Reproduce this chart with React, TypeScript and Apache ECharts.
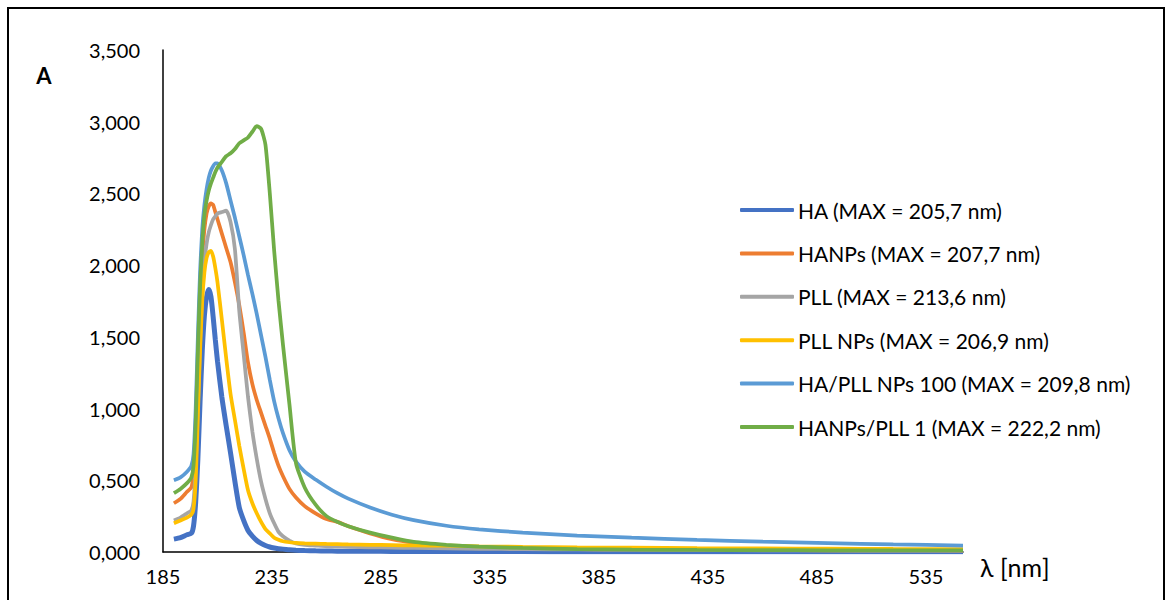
import React, { useEffect, useRef } from "react";
import * as echarts from "echarts";

const wavelengths = [
  190, 193, 196, 198, 199, 200, 201, 202, 203, 204, 205, 206, 207, 208, 209, 210,
  212, 214, 216, 218, 220, 222, 224, 226, 228, 230, 232, 234, 236, 238, 240, 243,
  246, 250, 255, 260, 265, 270, 280, 290, 300, 315, 330, 350, 375, 400, 430, 460,
  490, 520, 552,
];

const haValues = [
  0.09, 0.10, 0.12, 0.13, 0.18, 0.35, 0.65, 1.05, 1.4, 1.65, 1.78, 1.83, 1.78, 1.64, 1.48, 1.33,
  1.08, 0.88, 0.69, 0.49, 0.31, 0.22, 0.15, 0.11, 0.08, 0.06, 0.045, 0.035, 0.028, 0.022, 0.02, 0.015,
  0.012, 0.01, 0.008, 0.007, 0.006, 0.005, 0.005, 0.004, 0.004, 0.003, 0.003, 0.003, 0.002, 0.002, 0.002, 0.002,
  0.002, 0.002, 0.002,
];

const hanpsValues = [
  0.34, 0.37, 0.42, 0.45, 0.55, 0.85, 1.3, 1.75, 2.05, 2.25, 2.36, 2.41, 2.43, 2.42, 2.37, 2.32,
  2.22, 2.12, 2.02, 1.88, 1.72, 1.53, 1.32, 1.17, 1.06, 0.97, 0.88, 0.79, 0.69, 0.6, 0.53, 0.44,
  0.38, 0.32, 0.27, 0.23, 0.21, 0.18, 0.13, 0.09, 0.065, 0.04, 0.03, 0.025, 0.02, 0.018, 0.015, 0.013,
  0.012, 0.011, 0.01,
];

const pllValues = [
  0.22, 0.24, 0.27, 0.29, 0.35, 0.6, 1.0, 1.45, 1.8, 2.02, 2.15, 2.23, 2.28, 2.32, 2.34, 2.36,
  2.37, 2.38, 2.3, 2.11, 1.68, 1.38, 1.08, 0.84, 0.65, 0.49, 0.37, 0.27, 0.2, 0.14, 0.11, 0.08,
  0.06, 0.05, 0.045, 0.04, 0.038, 0.036, 0.033, 0.03, 0.028, 0.025, 0.022, 0.02, 0.018, 0.016, 0.014, 0.012,
  0.011, 0.01, 0.01,
];

const pllNpsValues = [
  0.20, 0.22, 0.24, 0.26, 0.3, 0.5, 0.95, 1.4, 1.75, 1.95, 2.05, 2.09, 2.1, 2.06, 1.98, 1.88,
  1.62, 1.35, 1.1, 0.92, 0.74, 0.58, 0.43, 0.34, 0.27, 0.21, 0.16, 0.13, 0.1, 0.085, 0.075, 0.068,
  0.063, 0.06, 0.058, 0.056, 0.055, 0.053, 0.05, 0.048, 0.046, 0.044, 0.04, 0.036, 0.032, 0.03, 0.027, 0.025,
  0.023, 0.021, 0.02,
];

const haPllNps100Values = [
  0.50, 0.52, 0.56, 0.6, 0.68, 1.0, 1.5, 1.95, 2.25, 2.42, 2.53, 2.61, 2.66, 2.69, 2.71, 2.71,
  2.66, 2.57, 2.45, 2.33, 2.2, 2.07, 1.93, 1.8, 1.66, 1.51, 1.36, 1.2, 1.05, 0.93, 0.83, 0.71,
  0.63, 0.56, 0.505, 0.455, 0.41, 0.372, 0.31, 0.26, 0.222, 0.183, 0.158, 0.135, 0.115, 0.1, 0.085, 0.072,
  0.062, 0.053, 0.045,
];

const hanpsPll1Values = [
  0.41, 0.44, 0.48, 0.52, 0.6, 0.9, 1.4, 1.85, 2.15, 2.35, 2.45, 2.52, 2.57, 2.61, 2.65, 2.68,
  2.72, 2.76, 2.78, 2.81, 2.85, 2.87, 2.89, 2.93, 2.97, 2.95, 2.84, 2.5, 2.1, 1.75, 1.45, 1.03,
  0.62, 0.45, 0.33, 0.25, 0.21, 0.18, 0.135, 0.1, 0.07, 0.05, 0.037, 0.028, 0.02, 0.016, 0.014, 0.013,
  0.012, 0.012, 0.012,
];

const seriesNames = [
  "HA (MAX = 205,7 nm)",
  "HANPs (MAX = 207,7 nm)",
  "PLL (MAX = 213,6 nm)",
  "PLL NPs (MAX = 206,9 nm)",
  "HA/PLL NPs 100 (MAX = 209,8 nm)",
  "HANPs/PLL 1 (MAX = 222,2 nm)",
];
const seriesColors = ["#4472C4", "#ED7D31", "#A5A5A5", "#FFC000", "#5B9BD5", "#70AD47"];
const seriesWidths = [5, 3.75, 3.75, 3.75, 3.75, 3.75];
const seriesValues = [haValues, hanpsValues, pllValues, pllNpsValues, haPllNps100Values, hanpsPll1Values];

const X_START = 185; // first x tick label
const X_END = 552;
const X_STEP = 50;
const Y_MAX = 3.5;
const Y_STEP = 0.5;

export default function App() {
  const ref = useRef<HTMLDivElement>(null);

  useEffect(() => {
    if (!ref.current) return;
    const chart = echarts.init(ref.current, undefined, { renderer: "svg" });
    const font = "Lato, 'Open Sans', sans-serif";
    chart.setOption({
      animation: false,
      backgroundColor: "#ffffff",
      textStyle: { fontFamily: font },
      grid: { left: 163, right: 205, top: 50, bottom: 48, containLabel: false },
      xAxis: {
        type: "value",
        min: 0,
        max: X_END - X_START,
        interval: X_STEP,
        name: "λ [nm]",
        nameLocation: "end",
        nameGap: 17,
        nameTextStyle: {
          fontFamily: font,
          fontSize: 25,
          color: "#000",
          verticalAlign: "top",
          lineHeight: 26,
          padding: [2, 0, 0, 0],
        },
        axisLine: { show: true, lineStyle: { color: "#000", width: 1.5 } },
        axisTick: { show: false },
        splitLine: { show: false },
        axisLabel: {
          color: "#000",
          fontSize: 20,
          fontFamily: font,
          margin: 14,
          formatter: (v: number) => (Math.round(v) % X_STEP === 0 ? String(Math.round(v) + X_START) : ""),
        },
      },
      yAxis: {
        type: "value",
        min: 0,
        max: Y_MAX,
        interval: Y_STEP,
        axisLine: { show: true, lineStyle: { color: "#000", width: 1.5 } },
        axisTick: { show: false },
        splitLine: { show: false },
        axisLabel: {
          color: "#000",
          fontSize: 20,
          fontFamily: font,
          margin: 23,
          formatter: (v: number) => v.toFixed(3).replace(".", ","),
        },
      },
      legend: {
        orient: "vertical",
        left: 735,
        top: 193,
        icon: "roundRect",
        itemWidth: 54,
        itemHeight: 4,
        itemGap: 19.4,
        data: seriesNames,
        textStyle: { fontFamily: font, fontSize: 21, color: "#000", lineHeight: 24, padding: [0, 0, 0, -1] },
      },
      graphic: [
        {
          type: "rect",
          shape: { x: 8, y: 8, width: 1156, height: 620 },
          style: { fill: "none", stroke: "#000", lineWidth: 2 },
          silent: true,
        },
        {
          type: "text",
          x: 44,
          y: 75,
          style: {
            text: "A",
            fontFamily: font,
            fontSize: 22,
            fontWeight: "bold",
            fill: "#000",
            textAlign: "center",
            textVerticalAlign: "middle",
          },
        },
      ],
      series: seriesNames.map((name, i) => ({
        name,
        type: "line",
        symbol: "none",
        smooth: 0.2,
        data: wavelengths.map((w, j) => [w - X_START, seriesValues[i][j]]),
        lineStyle: { color: seriesColors[i], width: seriesWidths[i] },
        itemStyle: { color: seriesColors[i] },
      })),
    });
    return () => chart.dispose();
  }, []);

  return (
    <div
      ref={ref}
      style={{ position: "fixed", left: 0, top: 0, width: 1168, height: 600, background: "#fff" }}
    />
  );
}
